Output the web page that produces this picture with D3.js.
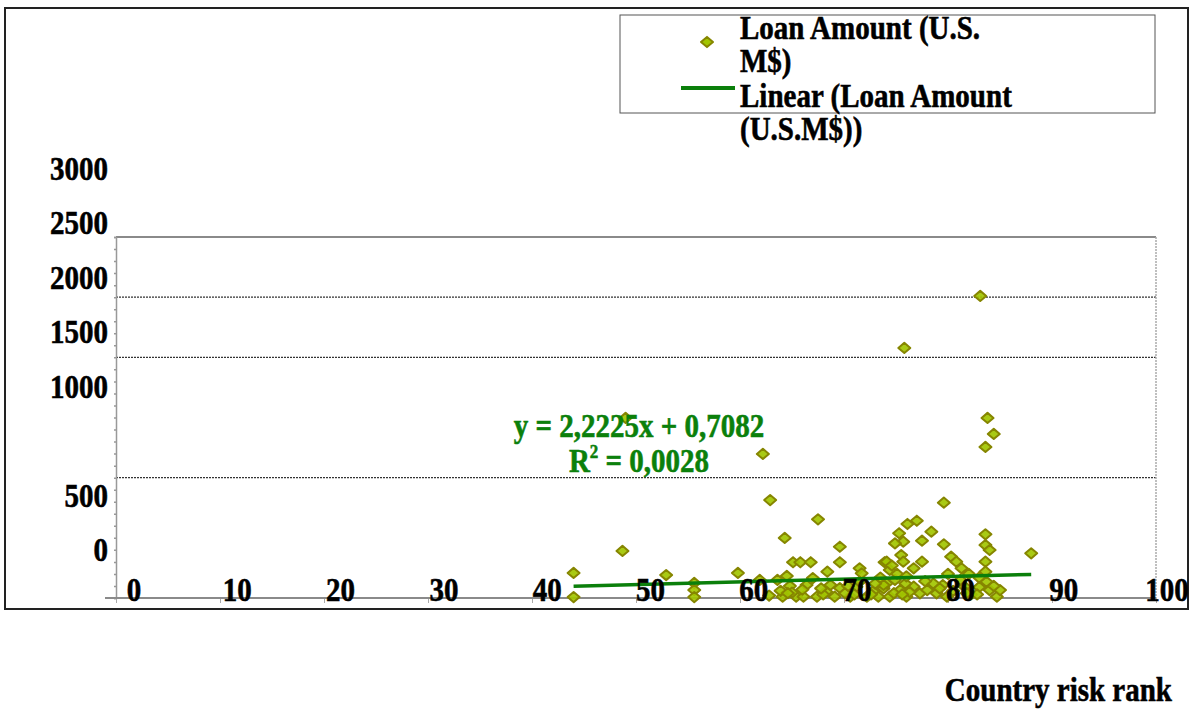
<!DOCTYPE html>
<html>
<head>
<meta charset="utf-8">
<script src="https://cdn.jsdelivr.net/npm/d3@7"></script>
<style>
  html, body { margin: 0; padding: 0; background: #fff; }
  svg { display: block; }
  text { font-family: "Liberation Serif", "Times New Roman", serif; font-weight: bold; }
</style>
</head>
<body>
<svg id="chart" width="1191" height="710"></svg>
<script>
// ---- data ----
const riskRank = [44.0,44.0,48.7,49.0,52.9,55.6,55.6,55.6,59.8,61.9,62.2,62.9,64.3,
  64.5,64.8,64.1,65.4,65.1,65.8,66.8,67.5,66.4,66.1,67.0,67.4,68.3,68.7,69.1,69.6,69.6,69.6,68.4,70.6,71.2,71.5,71.7,71.5,72.2,73.3,73.8,74.1,73.9,
  79.6,77.0,76.1,75.3,78.4,75.7,74.9,77.5,79.6,83.6,83.6,84.0,88.0,75.5,75.7,74.1,77.5,76.7,80.3,80.8,81.3,83.6,83.6,74.4,
  73.8,74.9,75.4,74.4,76.0,76.7,77.3,78.0,78.9,79.5,79.9,81.2,81.6,83.7,84.0,84.7,85.0,
  83.1,75.8,83.8,84.4,83.6,
  63.9,65.0,66.0,63.6,70.1,72.8,73.0,74.8,75.9,76.3,78.6,80.5,82.2,83.0,82.8,84.4,71.0,68.0,75.1,76.0,80.0,82.0,74.6,83.0,
  64.6,67.8,70.4,72.6,73.5,75.6,77.8,79.2,81.8,62.8];
const loanAmount = [208,8,391,1496,191,125,66,8,208,150,1197,814,499,
  183,100,11,11,297,297,297,654,108,11,166,11,52,108,11,83,426,297,219,11,94,247,205,135,11,11,80,122,297,
  792,642,615,538,551,468,454,476,446,529,440,399,371,357,302,302,302,247,343,302,247,302,219,233,
  108,150,66,11,11,94,39,66,39,108,11,150,94,135,66,11,66,
  2510,2078,1496,1363,1255,
  60,45,70,150,40,55,120,40,120,50,120,60,30,90,30,100,30,30,200,180,200,200,270,170,
  40,80,100,30,170,30,140,80,40,20];
const trendX = [44, 88];
const trendSlope = 2.2225, trendIntercept = 0.7082;
const xTickLabels = [0,10,20,30,40,50,60,70,80,90,100];
const yTickLabels = ["3000","2500","2000","1500","1000","","500","0"];
const gridValues = [2500, 2000, 1000];
const legendLabels = ["Loan Amount (U.S.", "M$)", "Linear (Loan Amount", "(U.S.M$))"];
const xTitle = "Country risk rank";

// ---- layout ----
const svg = d3.select("#chart");
const L = 116, R = 1156, T = 237, B = 598;
const x = d3.scaleLinear().domain([0, 100]).range([L, R]);
const y = d3.scaleLinear().domain([0, 3000]).range([B, T]);
const xLab = d3.scaleLinear().domain([0, 100]).range([134, 1167]);
const yLab = d3.scalePoint().domain(yTickLabels).range([170, 551]);

const FS = 29, SY = 1.15;
function label(parent, tx, ty, str, anchor, color) {
  return parent.append("text")
    .attr("transform", `translate(${tx},${ty}) scale(1,${SY})`)
    .attr("text-anchor", anchor || "start")
    .attr("font-size", FS).attr("fill", color || "#000")
    .attr("stroke", color || "#000").attr("stroke-width", 0.5)
    .text(str);
}

svg.append("rect").attr("width", 1191).attr("height", 710).attr("fill", "#fff");
// outer frame
svg.append("rect").attr("x", 5).attr("y", 8).attr("width", 1183).attr("height", 601)
  .attr("fill", "none").attr("stroke", "#222").attr("stroke-width", 2);

// gridlines
svg.append("g").selectAll("line").data(gridValues).join("line")
  .attr("x1", L).attr("x2", R).attr("y1", d => y(d)).attr("y2", d => y(d))
  .attr("stroke", "#333").attr("stroke-width", 1.2).attr("stroke-dasharray", "2,1");
// top border of plot area
svg.append("line").attr("x1", L).attr("x2", R).attr("y1", y(3000)).attr("y2", y(3000))
  .attr("stroke", "#8a8a8a").attr("stroke-width", 2);
// right border
svg.append("line").attr("x1", R).attr("x2", R).attr("y1", T).attr("y2", B)
  .attr("stroke", "#aaa").attr("stroke-width", 1.5).attr("stroke-dasharray", "2,1");

// y axis (minor ticks, no labels)
const yAx = svg.append("g").attr("transform", `translate(${L},0)`)
  .call(d3.axisLeft(y).tickValues(d3.range(0, 3001, 100)).tickSize(2).tickFormat(""));
yAx.selectAll("path,line").attr("stroke", "#999").attr("stroke-width", 1.5);

// x axis
const xAx = svg.append("g").attr("transform", `translate(0,${B})`)
  .call(d3.axisBottom(x).tickValues(xTickLabels).tickSize(5).tickFormat("").tickSizeOuter(0));
xAx.select("path").remove();
xAx.selectAll("line").attr("stroke", "#aaa");
svg.append("line").attr("x1", 105).attr("x2", R).attr("y1", B).attr("y2", B)
  .attr("stroke", "#8a8a8a").attr("stroke-width", 2);

// diamond symbol (wider than tall)
const diamond = { draw(ctx, size) {
  const w = Math.sqrt(size) * 0.6, h = w * 0.85;
  ctx.moveTo(0, -h); ctx.lineTo(w, 0); ctx.lineTo(0, h); ctx.lineTo(-w, 0); ctx.closePath();
}};
const sym = d3.symbol().type(diamond).size(100);

const pts = riskRank.map((r, i) => ({ r, v: loanAmount[i] }));
svg.append("g").selectAll("path").data(pts).join("path")
  .attr("d", sym)
  .attr("transform", d => `translate(${x(d.r)},${y(d.v)})`)
  .attr("fill", "#a2c600").attr("fill-opacity", 0.92)
  .attr("stroke", "#868600").attr("stroke-width", 2).attr("stroke-linejoin", "round");

// trend line
const line = d3.line().x(d => x(d)).y(d => y(trendSlope * d + trendIntercept));
svg.append("path").attr("d", line(trendX)).attr("fill", "none")
  .attr("stroke", "#0b7f0b").attr("stroke-width", 3.5);

// x labels
const gx = svg.append("g");
xTickLabels.forEach(v => label(gx, xLab(v), 601, v, "middle"));
// y labels
const gy = svg.append("g");
yTickLabels.forEach(v => label(gy, 108, yLab(v) + 10, v, "end"));

// equation
const GREEN = "#0b800b";
label(svg, 639, 437, "y = 2,2225x + 0,7082", "middle", GREEN);
const r2 = label(svg, 639, 472, "", "middle", GREEN);
r2.append("tspan").text("R");
r2.append("tspan").attr("font-size", 17).attr("dy", -12).text("2");
r2.append("tspan").attr("dy", 12).text(" = 0,0028");

// legend
svg.append("rect").attr("x", 620).attr("y", 15).attr("width", 535).attr("height", 98)
  .attr("fill", "#fff").attr("stroke", "#555").attr("stroke-width", 1);
svg.append("path").attr("d", sym).attr("transform", "translate(707,42)")
  .attr("fill", "#a2c600").attr("stroke", "#868600").attr("stroke-width", 2).attr("stroke-linejoin", "round");
svg.append("line").attr("x1", 681).attr("x2", 735).attr("y1", 88).attr("y2", 88)
  .attr("stroke", "#0b7f0b").attr("stroke-width", 4);
const gl = svg.append("g");
legendLabels.forEach((t, i) => label(gl, 740, [39, 72, 107, 140][i], t, "start"));

// axis title
label(svg, 1172, 701, xTitle, "end");
</script>
</body>
</html>
